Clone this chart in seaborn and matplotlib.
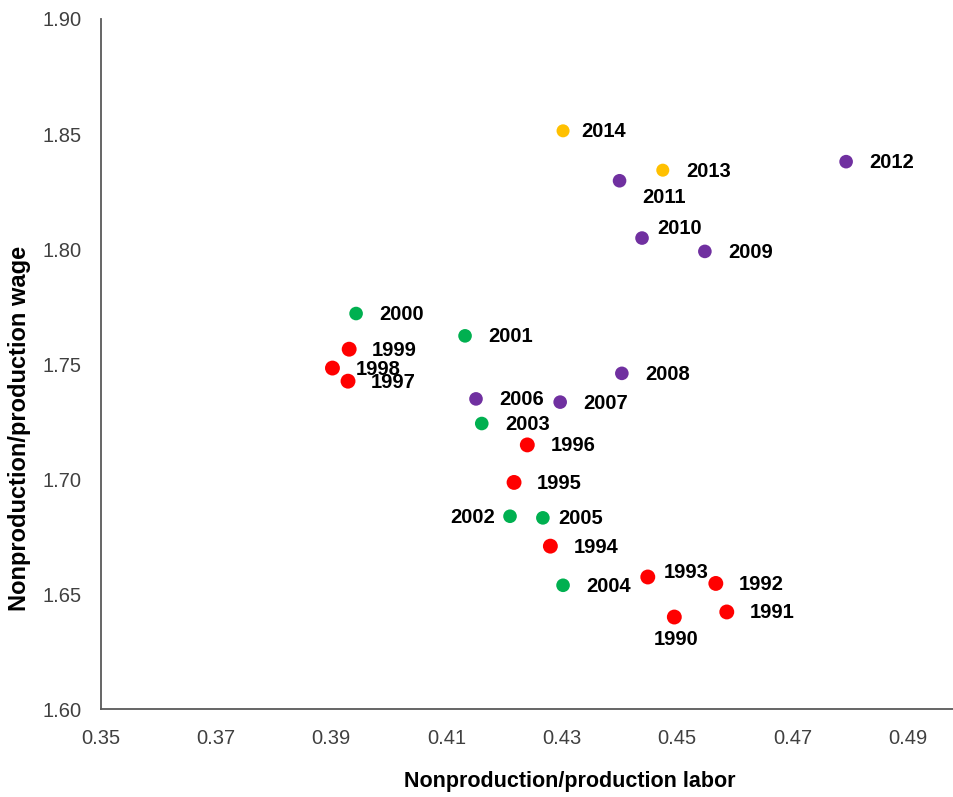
import matplotlib
matplotlib.use("Agg")
import matplotlib.pyplot as plt
import seaborn as sns
import pandas as pd

# ---- data ----
years = [1990, 1991, 1992, 1993, 1994, 1995, 1996, 1997, 1998, 1999,
         2000, 2001, 2002, 2003, 2004, 2005,
         2006, 2007, 2008, 2009, 2010, 2011, 2012,
         2013, 2014]
labor = [0.4495, 0.4586, 0.4567, 0.4449, 0.4280, 0.4217, 0.4240, 0.3929, 0.3902, 0.3931,
         0.3943, 0.4132, 0.4210, 0.4161, 0.4302, 0.4267,
         0.4151, 0.4297, 0.4404, 0.4548, 0.4439, 0.4400, 0.4793,
         0.4475, 0.4302]
wage = [1.6401, 1.6423, 1.6547, 1.6575, 1.6709, 1.6986, 1.7149, 1.7426, 1.7483, 1.7565,
        1.7720, 1.7623, 1.6839, 1.7242, 1.6539, 1.6832,
        1.7349, 1.7335, 1.7460, 1.7990, 1.8048, 1.8297, 1.8380,
        1.8343, 1.8514]
period = (["1990s"] * 10 + ["2000-2005"] * 6 + ["2006-2012"] * 7 + ["2013-2014"] * 2)

x_ticks = [0.35, 0.37, 0.39, 0.41, 0.43, 0.45, 0.47, 0.49]
y_ticks = [1.60, 1.65, 1.70, 1.75, 1.80, 1.85, 1.90]
x_label = "Nonproduction/production labor"
y_label = "Nonproduction/production wage"

df = pd.DataFrame({"year": years, "labor": labor, "wage": wage, "period": period})

# ---- styling ----
palette = {"1990s": "#FF0000", "2000-2005": "#00B050",
           "2006-2012": "#7030A0", "2013-2014": "#FFC000"}
sizes = {"1990s": 115, "2000-2005": 96, "2006-2012": 96, "2013-2014": 88}

# label offsets in pixels (dx, dy), dy positive = up; ha
default_off = (23, -1, "left")
label_off = {
    2014: (18, -1, "left"),
    2011: (23, -17, "left"),
    2010: (15, 10, "left"),
    2005: (15, -1, "left"),
    1993: (16, 4, "left"),
    1990: (2, -22, "center"),
    2002: (-15, -1, "right"),
}

sns.set_theme(style="white")
plt.rcParams["font.family"] = ["Liberation Sans", "DejaVu Sans"]

fig = plt.figure(figsize=(9.54, 7.97), dpi=100)
ax = fig.add_axes([100.7 / 954, 1 - 709.3 / 797, 1 - 100.7 / 954, (709.3 - 19) / 797])

sns.scatterplot(data=df, x="labor", y="wage", hue="period", palette=palette,
                size="period", sizes=sizes, linewidth=0, legend=False, ax=ax,
                zorder=3)

for yr, xv, yv in zip(years, labor, wage):
    dx, dy, ha = label_off.get(yr, default_off)
    ax.annotate(str(yr), (xv, yv), xytext=(dx, dy), textcoords="offset pixels",
                ha=ha, va="center", fontsize=14.5, fontweight="bold", color="black")

ax.set_xlim(0.35, 0.35 + (954 - 100.7) / 5765)
ax.set_ylim(1.60, 1.90)
ax.set_xticks(x_ticks)
ax.set_xticklabels([f"{v:.2f}" for v in x_ticks])
ax.set_yticks(y_ticks)
ax.set_yticklabels([f"{v:.2f}" for v in y_ticks])

for side in ["top", "right"]:
    ax.spines[side].set_visible(False)
for side in ["left", "bottom"]:
    ax.spines[side].set_color("#595959")
    ax.spines[side].set_linewidth(1.3)

ax.tick_params(axis="both", which="major", direction="out", length=5, width=1.1,
               color="#595959", labelsize=14.5, labelcolor="#404040")
ax.tick_params(axis="x", pad=9)
ax.tick_params(axis="y", pad=9)

ax.set_xlabel(x_label, fontsize=15.5, fontweight="bold", color="black")
ax.set_ylabel(y_label, fontsize=17, fontweight="bold", color="black")
ax.xaxis.set_label_coords(0.55, -0.0894)
ax.yaxis.set_label_coords(-0.0817, 0.4068)

fig.savefig("out.png", dpi=100)
